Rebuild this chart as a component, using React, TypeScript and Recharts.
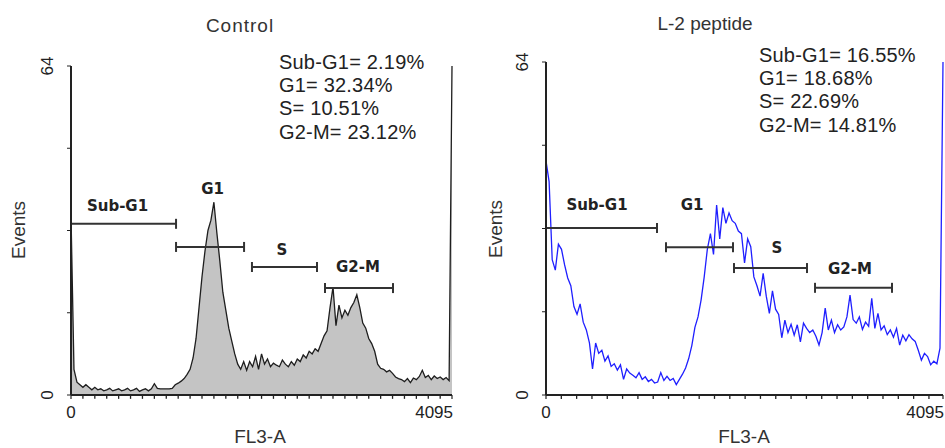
import { Area, ComposedChart, Line, ReferenceDot, ReferenceLine, XAxis, YAxis } from "recharts";

// DNA histograms, FL3-A channel 0..4095, 128 bins of 32 channels each, events per bin
const BIN_WIDTH = 32;
const MAX_CHANNEL = 4095;

const CONTROL_COUNTS = [
  35, 5, 2.5, 2, 1.5, 2, 1.5, 1, 1.5, 1, 1.2, 0.8, 1, 1.3, 0.8, 1,
  1.2, 0.8, 1, 1.3, 0.8, 1, 1.3, 0.7, 1, 1.2, 0.8, 1.2, 2.2, 1.3, 1.2, 1.2,
  1.2, 1.2, 1.3, 2, 2.3, 2.7, 3.2, 4, 5, 7.2, 11, 17, 23, 28, 32, 34,
  37.5, 31.5, 26, 20, 16.5, 13, 10.5, 8, 6, 5, 6.5, 4.8, 6.5, 5.5, 7.5, 5,
  8, 6, 7, 5.5, 6.2, 5.8, 5.5, 6.8, 6, 5.5, 6.5, 5.8, 7, 6.5, 7.8, 7.2,
  8.5, 8, 9, 8.5, 10, 11.5, 12.5, 17, 21, 13.5, 17.5, 15, 16.5, 15.5, 17, 18,
  19.5, 17, 14, 13, 11, 10, 8.5, 6, 5.2, 5, 4.5, 4.8, 4.2, 3.5, 3.2, 3,
  2.6, 3.2, 2.4, 3.3, 3, 3.6, 4.8, 3.4, 3.8, 3, 3.7, 3.2, 3.5, 3, 3.4, 2.8,
];
const CONTROL_LAST = 64;

const PEPTIDE_COUNTS = [
  45, 41, 26, 24, 29, 28, 25, 22.5, 21, 17, 15.5, 17.5, 14, 12.5, 10, 5,
  10, 8, 8.6, 6.5, 7.5, 5.5, 6, 4.8, 5.8, 3, 5, 4.2, 3.8, 3.3, 4.3, 3,
  3.5, 2.6, 3, 2.3, 2.5, 4.3, 2.8, 3.6, 2.8, 3.2, 2, 3, 4, 5.2, 7, 9.5,
  13, 15, 18.3, 22.7, 28, 31, 27, 36.5, 30, 36, 33, 35, 33.5, 33, 31.5, 31,
  25.4, 30, 28.5, 22.7, 21, 19, 23.4, 19, 15.7, 20, 16.5, 15.5, 11, 14.4, 12, 13.6,
  11.5, 13.5, 10.2, 13.8, 12.8, 12, 12.5, 11.3, 9.6, 12, 16.7, 12.5, 14.4, 12, 13.5, 12.5,
  13.1, 15, 19.2, 14.5, 13.8, 15, 12.6, 14, 13.2, 18.6, 12.8, 15.7, 12.5, 13.3, 11.6, 12.5,
  11.1, 12.8, 9.6, 11.5, 10.4, 11.6, 10.8, 10.3, 8.6, 6.7, 8, 7.4, 5.8, 6.5, 6, 9,
];
const PEPTIDE_LAST = 64;

// gates: channel ranges and the event level the marker is drawn at
const GATE_NAMES = ["Sub-G1", "G1", "S", "G2-M"];
const CONTROL_GATE_FROM = [0, 1129, 1945, 2730];
const CONTROL_GATE_TO = [1129, 1860, 2644, 3461];
const CONTROL_GATE_LEVEL = [33.3, 28.8, 24.9, 20.8];
const CONTROL_LABEL_CH = [500, 1521, 2268, 3085];
const CONTROL_LABEL_EV = [35.8, 39.1, 27.2, 23.9];

const PEPTIDE_GATE_FROM = [0, 1238, 1939, 2775];
const PEPTIDE_GATE_TO = [1145, 1929, 2692, 3569];
const PEPTIDE_GATE_LEVEL = [32.1, 28.4, 24.4, 20.6];
const PEPTIDE_LABEL_CH = [526, 1506, 2383, 3136];
const PEPTIDE_LABEL_EV = [35.6, 35.6, 27.3, 23.3];

const CONTROL_STATS = ["Sub-G1= 2.19%", "G1= 32.34%", "S= 10.51%", "G2-M= 23.12%"];
const PEPTIDE_STATS = ["Sub-G1= 16.55%", "G1= 18.68%", "S= 22.69%", "G2-M= 14.81%"];

const Y_TICKS = [0, 16, 32, 48, 64];
const X_TICKS = [0, MAX_CHANNEL];
// minor tick marks along FL3-A (spacing differs between the two plots)
const CONTROL_MINOR = Array.from({ length: 32 }, (_, i) => (i + 1) * 128).filter((c) => c < MAX_CHANNEL);
const PEPTIDE_MINOR = Array.from({ length: 26 }, (_, i) => (i + 1) * 158).filter((c) => c < MAX_CHANNEL);
const MINOR_DEPTH = 0.75; // events below zero

const SANS = "'Liberation Sans', Arial, sans-serif";
const AXIS = "#222";

function toSeries(counts: number[], last: number) {
  return counts.map((events, i) => ({ ch: i * BIN_WIDTH, events })).concat({ ch: MAX_CHANNEL, events: last });
}

const controlData = toSeries(CONTROL_COUNTS, CONTROL_LAST);
const peptideData = toSeries(PEPTIDE_COUNTS, PEPTIDE_LAST);

function XTick({ x, y, payload }: any) {
  const v = payload.value;
  return (
    <text x={v === 0 ? x : x + 1} y={y + 17} textAnchor={v === 0 ? "middle" : "end"} fontFamily={SANS} fontSize={17} fill="#222">
      {v}
    </text>
  );
}

function YTick({ x, y, payload }: any) {
  const v = payload.value;
  if (v !== 0 && v !== 64) return <g />;
  const tx = x - 12;
  return (
    <text x={tx} y={y} transform={`rotate(-90 ${tx} ${y})`} textAnchor="middle" fontFamily={SANS} fontSize={17} fill="#222">
      {v}
    </text>
  );
}

function GateBar({ x1, y1, x2, y2 }: any) {
  return (
    <g stroke="#333" strokeWidth={2}>
      <line x1={x1} y1={y1} x2={x2} y2={y2} />
      <line x1={x1} y1={y1 - 5} x2={x1} y2={y1 + 5} />
      <line x1={x2} y1={y2 - 5} x2={x2} y2={y2 + 5} />
    </g>
  );
}

function MinorTick({ x1, y1, x2, y2 }: any) {
  return <line x1={x1} y1={y1} x2={x2} y2={y2} stroke="#222" strokeWidth={1.3} />;
}

function gateLabel(name: string) {
  return ({ cx, cy }: any) => (
    <text x={cx} y={cy} textAnchor="middle" fontFamily="'DejaVu Sans', Verdana, sans-serif" fontWeight="bold" fontSize={15} fill="#222">
      {name}
    </text>
  );
}

function Panel({
  data,
  minor,
  top,
  right,
  from,
  to,
  level,
  labelCh,
  labelEv,
  filled,
}: {
  data: { ch: number; events: number }[];
  minor: number[];
  top: number;
  right: number;
  from: number[];
  to: number[];
  level: number[];
  labelCh: number[];
  labelEv: number[];
  filled: boolean;
}) {
  return (
    <ComposedChart width={470} height={448} data={data} margin={{ top, right, bottom: 23, left: 41 }}>
      <XAxis
        type="number"
        dataKey="ch"
        domain={[0, MAX_CHANNEL]}
        ticks={X_TICKS}
        interval={0}
        height={30}
        tickSize={4}
        tickMargin={2}
        tickLine={{ stroke: AXIS, strokeWidth: 1.2 }}
        axisLine={{ stroke: AXIS, strokeWidth: 2 }}
        tick={<XTick />}
      />
      <YAxis
        type="number"
        domain={[0, 64]}
        ticks={Y_TICKS}
        interval={0}
        width={30}
        tickSize={4}
        tickLine={{ stroke: AXIS, strokeWidth: 1 }}
        axisLine={{ stroke: AXIS, strokeWidth: 2 }}
        tick={<YTick />}
      />
      {filled ? (
        <Area type="linear" dataKey="events" stroke="#1e1e1e" strokeWidth={1.3} fill="#c4c4c4" fillOpacity={1} isAnimationActive={false} dot={false} activeDot={false} />
      ) : (
        <Line type="linear" dataKey="events" stroke="#1f1fff" strokeWidth={1.3} isAnimationActive={false} dot={false} activeDot={false} />
      )}
      {minor.map((c) => (
        <ReferenceLine
          key={`minor-${c}`}
          ifOverflow="visible"
          segment={[
            { x: c, y: 0 },
            { x: c, y: -MINOR_DEPTH },
          ]}
          shape={<MinorTick />}
        />
      ))}
      {GATE_NAMES.map((name, i) => (
        <ReferenceLine
          key={`gate-${name}`}
          segment={[
            { x: from[i], y: level[i] },
            { x: to[i], y: level[i] },
          ]}
          shape={<GateBar />}
        />
      ))}
      {GATE_NAMES.map((name, i) => (
        <ReferenceDot key={`label-${name}`} x={labelCh[i]} y={labelEv[i]} r={0} shape={gateLabel(name)} />
      ))}
    </ComposedChart>
  );
}

function Stats({ lines, x, y }: { lines: string[]; x: number; y: number }) {
  return (
    <text fontFamily={SANS} fontSize={20} fill="#222" letterSpacing={0.2}>
      {lines.map((line, i) => (
        <tspan key={line} x={x} y={y + i * 23.2}>
          {line}
        </tspan>
      ))}
    </text>
  );
}

export default function App() {
  return (
    <div style={{ position: "absolute", left: 0, top: 0, width: 945, height: 448, background: "#fff", overflow: "hidden" }}>
      <div style={{ position: "absolute", left: 0, top: 0 }}>
        <Panel data={controlData} minor={CONTROL_MINOR} top={66} right={18} from={CONTROL_GATE_FROM} to={CONTROL_GATE_TO} level={CONTROL_GATE_LEVEL} labelCh={CONTROL_LABEL_CH} labelEv={CONTROL_LABEL_EV} filled />
      </div>
      <div style={{ position: "absolute", left: 475, top: 0 }}>
        <Panel data={peptideData} minor={PEPTIDE_MINOR} top={62} right={2} from={PEPTIDE_GATE_FROM} to={PEPTIDE_GATE_TO} level={PEPTIDE_GATE_LEVEL} labelCh={PEPTIDE_LABEL_CH} labelEv={PEPTIDE_LABEL_EV} filled={false} />
      </div>
      <svg width={945} height={448} style={{ position: "absolute", left: 0, top: 0, pointerEvents: "none" }}>
        <text x={240} y={32} textAnchor="middle" fontFamily={SANS} fontSize={19} letterSpacing={1} fill="#333">
          Control
        </text>
        <text x={705} y={30} textAnchor="middle" fontFamily={SANS} fontSize={19} fill="#333">
          L-2 peptide
        </text>
        <Stats lines={CONTROL_STATS} x={279} y={69} />
        <Stats lines={PEPTIDE_STATS} x={759} y={62} />
        <text x={25} y={230} transform="rotate(-90 25 230)" textAnchor="middle" fontFamily={SANS} fontSize={19} fill="#333">
          Events
        </text>
        <text x={502} y={229} transform="rotate(-90 502 229)" textAnchor="middle" fontFamily={SANS} fontSize={19} fill="#333">
          Events
        </text>
        <text x={260} y={443} textAnchor="middle" fontFamily={SANS} fontSize={19} fill="#333">
          FL3-A
        </text>
        <text x={744} y={443} textAnchor="middle" fontFamily={SANS} fontSize={19} fill="#333">
          FL3-A
        </text>
      </svg>
    </div>
  );
}
